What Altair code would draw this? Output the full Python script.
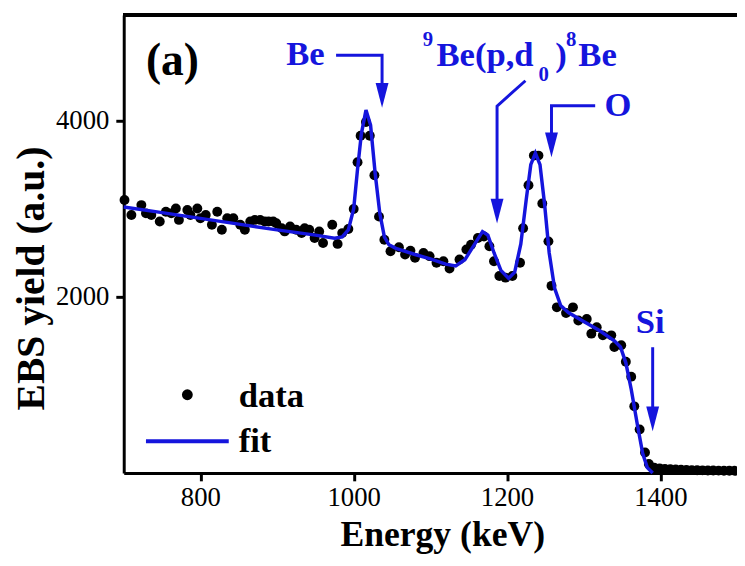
import altair as alt
import pandas as pd

BLUE = "#1515dd"
FONT = "Liberation Serif"

# ---- measured data points (energy keV, EBS yield) ----
data_E = [701, 710, 723, 729, 736, 747, 755, 762, 768, 772, 783, 787, 796, 800, 807, 815,
          822, 828, 835, 843, 852, 858, 865, 871, 878, 884, 889, 895, 899, 906, 910, 917,
          925, 932, 936, 942, 949, 955, 960, 972, 979, 985, 993, 1000, 1005, 1009, 1016,
          1021, 1027, 1033, 1040, 1048, 1059, 1067, 1074, 1080, 1091, 1099, 1108, 1117,
          1125, 1138, 1147, 1153, 1162, 1170, 1177, 1183, 1190, 1198, 1207, 1217, 1221,
          1228, 1235, 1241, 1246, 1254, 1258, 1265, 1277, 1286, 1293, 1304, 1310, 1317,
          1325, 1336, 1340, 1349, 1355, 1362, 1366, 1373, 1380, 1385, 1392, 1399, 1406,
          1413, 1420, 1427, 1434, 1441, 1448, 1455, 1462, 1469, 1476, 1483, 1490, 1497]
data_Y = [3098, 2929, 3041, 2947, 2929, 2854, 2966, 2947, 3003, 2873, 2985, 2929, 3003, 2891,
          2929, 2817, 2966, 2761, 2891, 2891, 2817, 2761, 2854, 2873, 2873, 2854, 2854, 2854,
          2835, 2779, 2742, 2798, 2761, 2723, 2779, 2761, 2667, 2742, 2610, 2817, 2600, 2723,
          2770, 2996, 3528, 3828, 3985, 3828, 3379, 2910, 2648, 2517, 2562, 2480, 2524, 2442,
          2498, 2461, 2386, 2404, 2320, 2423, 2536, 2592, 2667, 2685, 2573, 2404, 2236, 2217,
          2236, 2386, 2779, 3266, 3603, 3603, 3060, 2629, 2124, 1880, 1815, 1880, 1730, 1749,
          1581, 1655, 1562, 1562, 1430, 1449, 1262, 1093, 756, 494, 232, 101, 60, 52, 45, 42,
          38, 36, 34, 32, 30, 29, 28, 27, 26, 25, 25, 24]

# ---- fitted curve ----
fit_E = [700, 750, 800, 850, 900, 950, 975, 985, 993, 1000, 1005, 1010, 1016, 1022, 1028,
         1034, 1040, 1046, 1055, 1080, 1100, 1120, 1133, 1145, 1158, 1168, 1175, 1183, 1192,
         1202, 1210, 1218, 1225, 1231, 1237, 1243, 1249, 1255, 1262, 1270, 1280, 1300, 1320,
         1340, 1348, 1355, 1362, 1370, 1377, 1383, 1390]
fit_Y = [3020, 2955, 2890, 2825, 2760, 2700, 2665, 2680, 2760, 3000, 3450, 3850, 4120, 3950,
         3400, 2950, 2680, 2590, 2550, 2480, 2430, 2370, 2350, 2420, 2600, 2740, 2700, 2500,
         2300, 2210, 2280, 2600, 3100, 3500, 3630, 3500, 3050, 2500, 2100, 1900, 1820, 1720,
         1620, 1500, 1430, 1250, 950, 550, 220, 60, 0]

# ---- annotation arrows (polyline vertices) and arrow tips ----
arrow_id = ["Be", "Be", "Be", "pd", "pd", "pd", "O", "O", "O", "Si", "Si"]
arrow_E = [977, 1037, 1037, 1224, 1187, 1187, 1315, 1258, 1258, 1390, 1390]
arrow_Y = [4742, 4742, 4286, 4453, 4165, 2971, 4169, 4169, 3724, 1427, 612]
tip_E = [1037, 1187, 1258, 1390]
tip_Y = [4146, 2831, 3584, 472]

# ---- annotation texts ----
txt = ["(a)", "Be", "9", "Be(p,d", "0", ")", "8", "Be", "O", "Si", "data", "fit"]
txt_E = [729, 912, 1090, 1108, 1241, 1263, 1277, 1293, 1327, 1368, 850, 850]
txt_Y = [4517, 4629, 4843, 4618, 4449, 4618, 4843, 4618, 4056, 1584, 753, 236]
txt_size = [46, 35, 21, 35, 21, 35, 21, 35, 35, 35, 35, 35]
txt_col = ["black", BLUE, BLUE, BLUE, BLUE, BLUE, BLUE, BLUE, BLUE, BLUE, "black", "black"]

# legend sample positions
leg_dot_E, leg_dot_Y = [783], [888]
leg_line_E, leg_line_Y = [729, 837], [360, 360]

X_DOM = [700, 1500]
Y_DOM = [0, 5200]
X_TICKS = [800, 1000, 1200, 1400]
Y_TICKS = [2000, 4000]

pts = pd.DataFrame({"E": data_E, "Y": data_Y})
fit = pd.DataFrame({"E": fit_E, "Y": fit_Y})
arr = pd.DataFrame({"id": arrow_id, "E": arrow_E, "Y": arrow_Y, "o": list(range(len(arrow_E)))})
tips = pd.DataFrame({"E": tip_E, "Y": tip_Y})
texts = pd.DataFrame({"t": txt, "E": txt_E, "Y": txt_Y, "s": txt_size, "c": txt_col})
ldot = pd.DataFrame({"E": leg_dot_E, "Y": leg_dot_Y})
lline = pd.DataFrame({"E": leg_line_E, "Y": leg_line_Y})

xs = alt.Scale(domain=X_DOM, nice=False, zero=False)
ys = alt.Scale(domain=Y_DOM, nice=False, zero=False)

common = dict(grid=False, format="d", labelFont=FONT, labelFontSize=27, labelColor="black",
              labelFontWeight="normal", titleFont=FONT, titleFontWeight="bold",
              titleColor="black", domainColor="black", domainWidth=3, tickColor="black",
              tickWidth=3, tickSize=8, titleBaseline="alphabetic")
xaxis = alt.Axis(values=X_TICKS, title="Energy (keV)", titleX=322, titleY=73,
                 titleFontSize=36, labelPadding=4, **common)
yaxis = alt.Axis(values=Y_TICKS, title="EBS yield (a.u.)", titleX=-81, titleY=266,
                 titleAngle=270, titleFontSize=40, labelPadding=7, **common)

X = alt.X("E:Q", scale=xs, axis=xaxis)
Y = alt.Y("Y:Q", scale=ys, axis=yaxis)
Xn = alt.X("E:Q", scale=xs)
Yn = alt.Y("Y:Q", scale=ys)

points = alt.Chart(pts).mark_circle(size=100, color="black", opacity=1).encode(x=X, y=Y)
fitline = alt.Chart(fit).mark_line(color=BLUE, strokeWidth=3.5).encode(x=Xn, y=Yn)
arrows = alt.Chart(arr).mark_line(color=BLUE, strokeWidth=3, strokeJoin="miter").encode(
    x=Xn, y=Yn, detail="id:N", order="o:Q")
heads = alt.Chart(tips).mark_point(
    shape="M-0.52,-2L0.52,-2L0,0Z", size=625, filled=True, color=BLUE, opacity=1,
    strokeWidth=0).encode(x=Xn, y=Yn)
labels = alt.Chart(texts).mark_text(
    font=FONT, fontWeight="bold", align="left", baseline="alphabetic").encode(
    x=Xn, y=Yn, text="t:N",
    size=alt.Size("s:Q", scale=None),
    color=alt.Color("c:N", scale=None))
legdot = alt.Chart(ldot).mark_circle(size=120, color="black", opacity=1).encode(x=Xn, y=Yn)
legline = alt.Chart(lline).mark_line(color=BLUE, strokeWidth=4).encode(x=Xn, y=Yn)
frame = alt.Chart(pts).mark_rule(color="black", strokeWidth=3).encode(
    x=alt.datum(X_DOM[0]), x2=alt.datum(X_DOM[1]), y=alt.datum(Y_DOM[1]))

chart = alt.layer(points, fitline, arrows, heads, labels, legdot, legline, frame).properties(
    width=620, height=463,
    autosize=alt.AutoSizeParams(type="none"),
    padding={"left": 117, "top": 4, "right": 0, "bottom": 83},
).configure_view(stroke=None)

chart.save("out.html", embed_options={"renderer": "svg", "actions": False})
